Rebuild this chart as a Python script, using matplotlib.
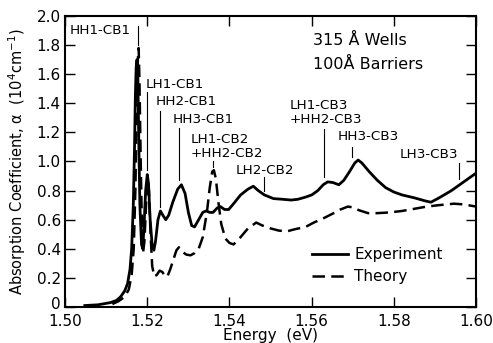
import matplotlib
matplotlib.use("Agg")
import matplotlib.pyplot as plt
from matplotlib.transforms import ScaledTranslation

# Experiment (solid curve), energy in eV, alpha in 10^4 cm^-1
exp_energy = [1.5048, 1.5080, 1.5110, 1.5125, 1.5135, 1.5145, 1.5152, 1.5158, 1.5162, 1.5166,
              1.5169, 1.5171, 1.5173, 1.5175, 1.5177, 1.5179, 1.5182, 1.5186, 1.5189, 1.5192,
              1.5196, 1.5200, 1.5203, 1.5207, 1.5212, 1.5216, 1.5220, 1.5226, 1.5232, 1.5238,
              1.5245, 1.5252, 1.5262, 1.5274, 1.5283, 1.5292, 1.5300, 1.5308, 1.5315, 1.5325,
              1.5335, 1.5343, 1.5352, 1.5360, 1.5370, 1.5378, 1.5388, 1.5398, 1.5410, 1.5427,
              1.5445, 1.5458, 1.5470, 1.5485, 1.5507, 1.5530, 1.5550, 1.5566, 1.5585, 1.5600,
              1.5615, 1.5628, 1.5639, 1.5652, 1.5666, 1.5678, 1.5692, 1.5705, 1.5713, 1.5722,
              1.5740, 1.5760, 1.5780, 1.5800, 1.5820, 1.5850, 1.5875, 1.5890, 1.5910, 1.5940,
              1.5970, 1.6000]
exp_alpha = [0.01, 0.015, 0.03, 0.045, 0.07, 0.11, 0.16, 0.26, 0.40, 0.70,
             1.10, 1.45, 1.65, 1.70, 1.60, 1.20, 0.70, 0.43, 0.40, 0.55,
             0.80, 0.91, 0.85, 0.60, 0.42, 0.39, 0.45, 0.60, 0.66, 0.63,
             0.60, 0.63, 0.72, 0.81, 0.84, 0.78, 0.65, 0.56, 0.55, 0.60,
             0.65, 0.66, 0.65, 0.65, 0.68, 0.69, 0.67, 0.67, 0.71, 0.77,
             0.81, 0.83, 0.80, 0.77, 0.745, 0.74, 0.735, 0.74, 0.755, 0.77,
             0.80, 0.84, 0.86, 0.855, 0.84, 0.87, 0.93, 0.99, 1.01, 0.99,
             0.93, 0.87, 0.82, 0.79, 0.77, 0.75, 0.73, 0.72, 0.75, 0.80,
             0.86, 0.92]

# Theory (dashed curve)
th_energy = [1.5115, 1.5130, 1.5145, 1.5155, 1.5162, 1.5167, 1.5171, 1.5174, 1.5177, 1.5179,
             1.5181, 1.5184, 1.5187, 1.5190, 1.5193, 1.5197, 1.5201, 1.5204, 1.5208, 1.5212,
             1.5217, 1.5223, 1.5230, 1.5237, 1.5243, 1.5249, 1.5256, 1.5264, 1.5271, 1.5277,
             1.5285, 1.5295, 1.5305, 1.5315, 1.5325, 1.5335, 1.5345, 1.5352, 1.5358, 1.5362,
             1.5367, 1.5373, 1.5380, 1.5390, 1.5400, 1.5410, 1.5427, 1.5445, 1.5465, 1.5480,
             1.5500, 1.5520, 1.5540, 1.5560, 1.5585, 1.5605, 1.5629, 1.5650, 1.5670, 1.5688,
             1.5700, 1.5715, 1.5737, 1.5760, 1.5790, 1.5820, 1.5850, 1.5880, 1.5910, 1.5946,
             1.5970, 1.6000]
th_alpha = [0.02, 0.04, 0.07, 0.12, 0.22, 0.40, 0.80, 1.30, 1.70, 1.78,
            1.55, 1.00, 0.55, 0.38, 0.45, 0.70, 0.87, 0.80, 0.50, 0.28,
            0.21, 0.22, 0.25, 0.24, 0.21, 0.21, 0.26, 0.33, 0.39, 0.41,
            0.38, 0.36, 0.355, 0.37, 0.40, 0.48, 0.65, 0.82, 0.93, 0.94,
            0.88, 0.72, 0.57, 0.47, 0.44, 0.43, 0.48, 0.54, 0.58, 0.56,
            0.54, 0.525, 0.52, 0.535, 0.55, 0.58, 0.61, 0.64, 0.67, 0.69,
            0.685, 0.665, 0.645, 0.645, 0.65, 0.66, 0.675, 0.69, 0.70, 0.71,
            0.705, 0.69]

# transition labels: text, text x, text y, marker line x, line top, line bottom
labels = ["HH1-CB1", "LH1-CB1", "HH2-CB1", "HH3-CB1", "LH1-CB2\n+HH2-CB2",
          "LH2-CB2", "LH1-CB3\n+HH2-CB3", "HH3-CB3", "LH3-CB3"]
label_x = [1.5012, 1.5195, 1.5220, 1.5261, 1.5305, 1.5415, 1.5546, 1.5663, 1.5815]
label_y = [1.90, 1.53, 1.41, 1.29, 1.10, 0.94, 1.34, 1.17, 1.05]
line_x = [1.5178, 1.5200, 1.5232, 1.5276, 1.5361, 1.5483, 1.5629, 1.5698, 1.5959]
line_top = [1.93, 1.475, 1.35, 1.23, 1.00, 0.89, 1.22, 1.10, 0.99]
line_bot = [1.80, 0.94, 0.69, 0.87, 0.96, 0.80, 0.89, 1.03, 0.88]

x_ticks = [1.50, 1.52, 1.54, 1.56, 1.58, 1.60]
y_ticks = [0, 0.2, 0.4, 0.6, 0.8, 1.0, 1.2, 1.4, 1.6, 1.8, 2.0]
y_ticklabels = ["0", "0.2", "0.4", "0.6", "0.8", "1.0", "1.2", "1.4", "1.6", "1.8", "2.0"]

fig = plt.figure(figsize=(4.93, 3.43), dpi=100)
ax = fig.add_axes([0.132, 0.105, 0.8337, 0.8484])

ax.plot(exp_energy, exp_alpha, color="black", lw=2.0, label="Experiment")
ax.plot(th_energy, th_alpha, color="black", lw=1.8, dashes=(5, 2.5), label="Theory")

for t, tx, ty, lx, lt, lb in zip(labels, label_x, label_y, line_x, line_top, line_bot):
    ax.text(tx, ty, t, fontsize=9.7, ha="left", va="center", linespacing=1.1)
    ax.plot([lx, lx], [lb, lt], color="black", lw=0.8)

ax.text(1.5602, 1.83, "315 Å Wells", fontsize=11.5, va="center")
ax.text(1.5602, 1.67, "100Å Barriers", fontsize=11.5, va="center")

ax.set_xlim(1.50, 1.60)
ax.set_ylim(0, 2.0)
ax.set_xticks(x_ticks)
ax.set_xticklabels([f"{v:.2f}" for v in x_ticks])
ax.set_yticks(y_ticks)
ax.set_yticklabels(y_ticklabels)
ax.tick_params(direction="in", length=7, width=1.0, top=True, right=True, labelsize=11)
ax.tick_params(axis="x", pad=5)
ax.tick_params(axis="y", pad=3)
for s in ax.spines.values():
    s.set_linewidth(1.5)

# lift the "0" label a little so it clears "1.50"
zero_lbl = ax.get_yticklabels()[0]
zero_lbl.set_transform(zero_lbl.get_transform() + ScaledTranslation(0, 4 / 100, fig.dpi_scale_trans))

ax.set_xlabel("Energy  (eV)", fontsize=11, labelpad=-1)
ax.set_ylabel("Absorption Coefficient, α  (10$^4$cm$^{-1}$)", fontsize=10.5, labelpad=6)

ax.legend(loc="upper left", bbox_to_anchor=(0.6, 0.205), frameon=False,
          fontsize=11, handlelength=2.4, handletextpad=0.4, borderpad=0,
          borderaxespad=0, labelspacing=0.45)

fig.savefig("out.png", dpi=100)
